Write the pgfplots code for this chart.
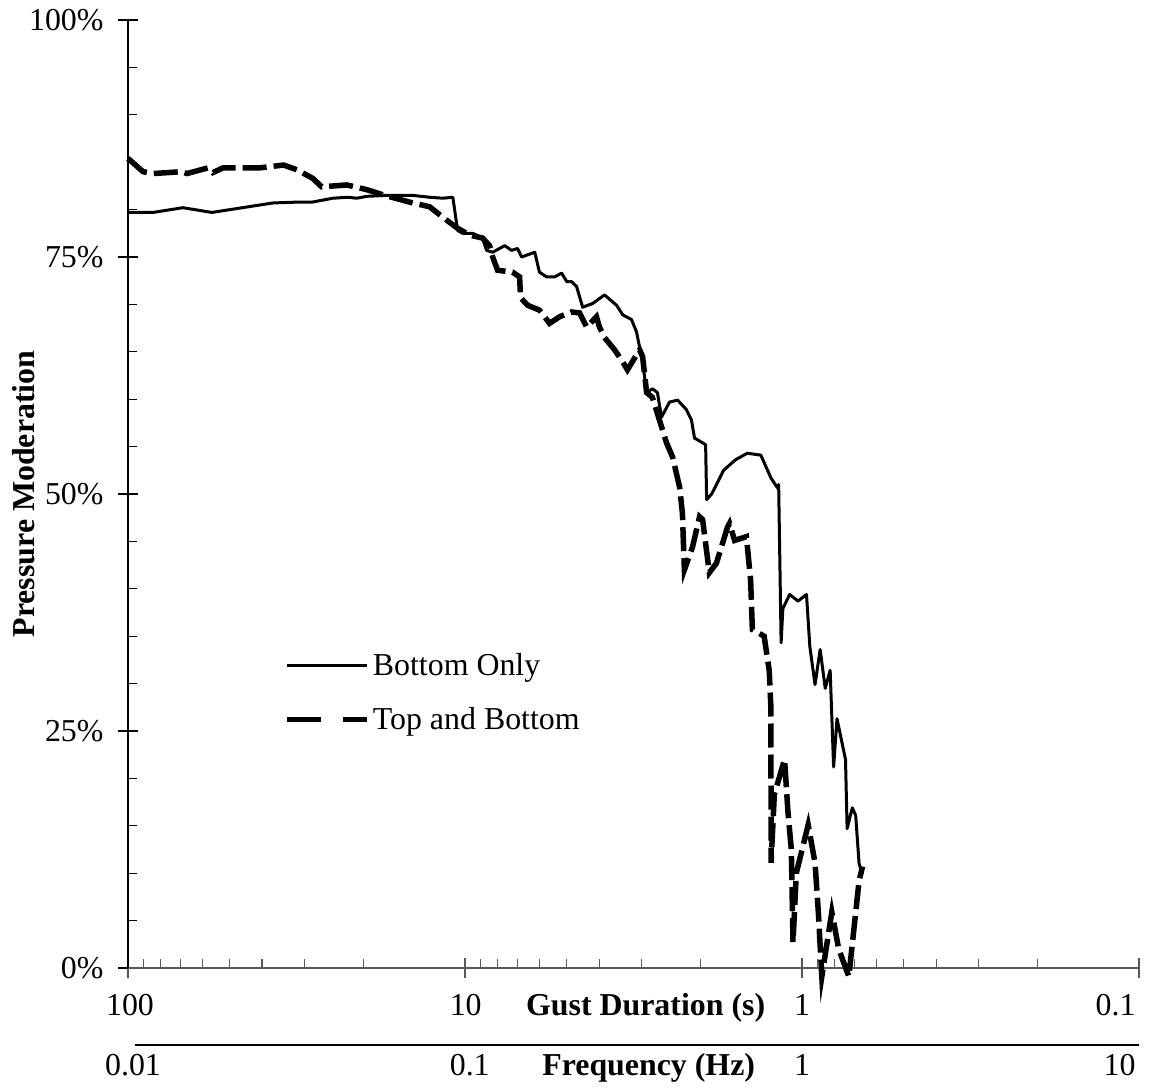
\documentclass[border=0pt]{standalone}
\usepackage{fontspec}
\setmainfont{Liberation Serif}
\usepackage{pgfplots}
\pgfplotsset{compat=1.18}
\usetikzlibrary{calc}

\begin{document}
\begin{tikzpicture}[font=\fontsize{32}{38}\selectfont]
\begin{axis}[
    scale only axis,
    width=1011bp, height=948bp,
    xmode=log, xmin=0.01, xmax=10,
    ymin=0, ymax=100,
    axis x line=bottom, axis y line=left,
    axis line style={-},
    x axis line style={black!65, line width=1.2bp},
    y axis line style={black, line width=1.2bp},
    xtick={0.01,0.1,1,10},
    xticklabels={},
    minor xtick={0.011111,0.0125,0.0142857,0.0166667,0.02,0.025,0.033333,0.05,
                 0.11111,0.125,0.142857,0.166667,0.2,0.25,0.33333,0.5,
                 1.11111,1.25,1.42857,1.66667,2,2.5,3.33333,5},
    ytick={0,25,50,75,100},
    yticklabels={0\%,25\%,50\%,75\%,100\%},
    minor y tick num=4,
    tick align=inside,
    major tick length=20bp,
    minor tick length=9bp,
    major x tick style={yshift=-10bp, black!65, line width=1.2bp},
    minor x tick style={black!65, line width=1.2bp},
    major y tick style={xshift=-10bp, black, line width=1.2bp},
    minor y tick style={black, line width=1.2bp},
    yticklabel style={anchor=east, xshift=-21bp},
    legend cell align=left,
    legend style={at={(0.155,0.335)}, anchor=north west, draw=none, fill=none,
                  row sep=24bp, inner sep=0pt, nodes={inner sep=3bp}},
    legend image code/.code={\draw[#1] (0bp,0bp) -- (80bp,0bp);},
    clip=false,
]
\coordinate (O) at (rel axis cs:0,0);

% Bottom Only
\addplot[black, line width=3bp, line join=round, forget plot] coordinates {
(0.0100,79.7) (0.01186,79.7) (0.01455,80.2) (0.01774,79.7) (0.02692,80.7)
(0.03236,80.8) (0.03532,80.8) (0.04055,81.2) (0.04487,81.3) (0.04775,81.2)
(0.05117,81.4) (0.05861,81.5) (0.06998,81.5) (0.07852,81.3) (0.0859,81.2)
(0.09204,81.3) (0.09506,77.8) (0.0984,77.5) (0.1054,77.5) (0.1127,77.0)
(0.1159,75.7) (0.1208,75.5) (0.1312,76.2) (0.1374,75.7) (0.1432,75.9)
(0.1472,75.0) (0.1611,75.5) (0.1663,73.4) (0.1746,72.9) (0.1845,72.9)
(0.1936,73.3) (0.2004,72.4) (0.2070,72.4) (0.2143,71.9) (0.2234,69.7)
(0.2393,70.1) (0.2594,71.0) (0.2818,69.9) (0.2938,68.9) (0.3119,68.4)
(0.3228,67.1) (0.3296,65.5) (0.3342,65.0) (0.3412,62.3) (0.3459,60.7)
(0.3597,61.1) (0.3724,60.7) (0.3828,58.1) (0.4046,59.7) (0.4276,59.9)
(0.4539,58.9) (0.4699,57.8) (0.4797,55.9) (0.5070,55.4) (0.5176,55.2)
(0.5212,49.4) (0.5395,50.0) (0.5853,52.5) (0.6343,53.6) (0.688,54.3)
(0.7548,54.1) (0.8086,51.7) (0.8473,50.6) (0.8525,51.0) (0.867,34.3)
(0.8773,37.9) (0.9189,39.4) (0.9732,38.7) (1.031,39.4) (1.055,33.9)
(1.093,29.9) (1.132,33.6) (1.172,29.5) (1.212,31.4) (1.241,21.2)
(1.270,26.3) (1.346,22.0) (1.361,14.7) (1.410,16.9) (1.443,16.1)
(1.477,11.0) (1.512,9.9)
};

% Top and Bottom
\addplot[black, line width=5.5bp, dash pattern=on 24bp off 7bp, forget plot] coordinates {
(0.0100,85.4) (0.01108,84.0) (0.01186,83.8) (0.01445,84.0) (0.01496,83.8)
(0.01726,84.4) (0.01786,83.9) (0.01914,84.4) (0.0246,84.4) (0.02897,84.7)
(0.0317,84.2) (0.03532,83.3) (0.03758,82.4) (0.04457,82.6) (0.05117,82.1)
(0.05781,81.5) (0.06998,80.7) (0.07852,80.3) (0.0859,79.2) (0.0944,78.1)
(0.1033,77.3) (0.1127,77.0) (0.1183,76.2) (0.1208,75.0) (0.125,73.6)
(0.1384,73.4) (0.1452,72.9) (0.1462,70.7) (0.1535,69.9) (0.1663,69.4)
(0.1782,68.0) (0.1910,68.7) (0.2070,69.2) (0.2188,69.1) (0.2296,67.6)
(0.2455,68.7) (0.2506,67.6) (0.2594,66.5) (0.278,65.2) (0.2917,64.1)
(0.3034,63.1) (0.3296,65.2) (0.3365,64.5) (0.3459,60.7) (0.3597,60.2)
(0.3776,57.8) (0.3963,55.4) (0.413,53.9) (0.4335,50.7) (0.4416,48.0)
(0.4477,42.0) (0.4732,44.4) (0.4966,47.6) (0.507,47.3) (0.5309,41.7)
(0.5572,42.7) (0.6012,46.5) (0.6095,46.9) (0.631,45.1) (0.6839,45.5)
(0.704,40.9) (0.7124,35.7) (0.772,35.0) (0.7993,31.4) (0.8086,27.4)
(0.8095,11.1) (0.8276,18.3) (0.8876,22.0) (0.9082,16.5) (0.9296,12.5)
(0.9403,2.7) (0.9618,10.0) (1.043,15.1) (1.093,11.1) (1.118,5.9)
(1.145,-0.9) (1.226,5.9) (1.285,2.0) (1.377,-0.9) (1.477,9.2)
(1.512,10.7)
};

\addlegendimage{black, line width=2.5bp}
\addlegendentry{Bottom Only}
\addlegendimage{black, line width=5bp, dash pattern=on 34bp off 22bp}
\addlegendentry{Top and Bottom}

% two rows of tick labels (duration above, frequency below)
\node[anchor=base] at (axis cs:0.01014,-4.96) {100};
\node[anchor=base] at (axis cs:0.1005,-4.96) {10};
\node[anchor=base] at (axis cs:1,-4.96) {1};
\node[anchor=base east] at (axis cs:10,-4.96) {0.1};
\node[anchor=base, font=\fontsize{32}{38}\selectfont\bfseries] at (axis cs:0.3436,-4.96) {Gust Duration (s)};
\draw[black, line width=1.2bp] (axis cs:0.01049,-8.12) -- (axis cs:10,-8.12);
\node[anchor=base] at (axis cs:0.01035,-11.29) {0.01};
\node[anchor=base] at (axis cs:0.1033,-11.29) {0.1};
\node[anchor=base] at (axis cs:1,-11.29) {1};
\node[anchor=base east] at (axis cs:10,-11.29) {10};
\node[anchor=base, font=\fontsize{32}{38}\selectfont\bfseries] at (axis cs:0.3508,-11.29) {Frequency (Hz)};
\end{axis}
\node[rotate=90, anchor=base, font=\fontsize{32}{38}\selectfont\bfseries]
  at ($(O)+(-93bp,474bp)$) {Pressure Moderation};
\path ($(O)+(-128bp,-123bp)$) rectangle ($(O)+(1036bp,968bp)$);
\end{tikzpicture}
\end{document}
